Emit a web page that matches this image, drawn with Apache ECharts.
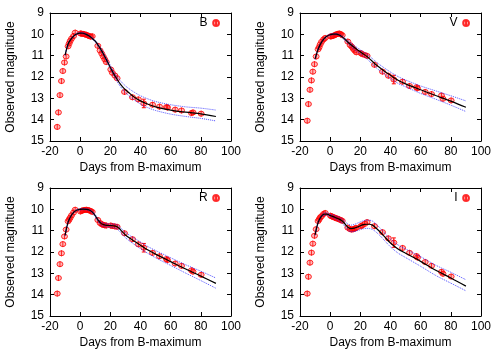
<!DOCTYPE html>
<html>
<head>
<meta charset="utf-8">
<script src="https://cdn.jsdelivr.net/npm/echarts@6/dist/echarts.min.js"></script>
<style>
html, body { margin: 0; padding: 0; background: #fff; }
#chart { width: 500px; height: 350px; }
</style>
</head>
<body>
<div id="chart"></div>
<script>
// observation epochs (days from B max), shared by all bands
var obsDays = [-15.2, -14.4, -13.4, -12.4, -11.5, -10.4, -9.3, -8.0, -7.3, -6.6, -5.7, -4.4, -3.3,
    0.2, 1.0, 2.0, 3.0, 4.0, 5.0, 6.0, 7.0, 8.0, 11.7, 13.2, 14.3, 15.3, 16.3, 17.3,
    20.3, 21.3, 23.0, 24.5, 29.4, 34.7, 38.6, 42.2, 48.0, 52.6, 57.2, 57.9, 63.0, 67.2, 73.8, 74.8, 80.2];

var bMags = [14.34, 13.66, 12.85, 12.19, 11.72, 11.32, 11.04, 10.56, 10.43, 10.31, 10.2, 10.08, 9.92,
    9.96, 9.97, 9.98, 10.0, 10.02, 10.05, 10.08, 10.11, 10.09, 10.54, 10.76, 10.9, 11.04, 11.17, 11.3,
    11.65, 11.8, 11.93, 12.06, 12.7, 12.95, 13.05, 13.24, 13.3, 13.39, 13.41, 13.43, 13.53, 13.57, 13.69, 13.66, 13.72];
var vMags = [14.05, 13.27, 12.6, 12.16, 11.75, 11.4, 11.04, 10.7, 10.6, 10.47, 10.35, 10.24, 10.17,
    10.1, 10.09, 10.07, 10.04, 10.0, 9.98, 9.96, 9.99, 10.04, 10.34, 10.5, 10.58, 10.68, 10.76, 10.84,
    10.88, 10.93, 10.97, 11.01, 11.43, 11.75, 11.94, 12.12, 12.22, 12.42, 12.48, 12.53, 12.7, 12.8, 12.87, 13.02, 13.1];
var rMags = [13.95, 13.22, 12.57, 12.06, 11.63, 11.27, 10.95, 10.56, 10.48, 10.39, 10.28, 10.15, 10.02,
    10.1, 10.07, 10.04, 10.03, 10.02, 10.03, 10.05, 10.08, 10.12, 10.5, 10.64, 10.7, 10.73, 10.75, 10.76,
    10.76, 10.78, 10.8, 10.82, 11.12, 11.4, 11.64, 11.8, 12.04, 12.2, 12.33, 12.38, 12.54, 12.65, 12.86, 12.92, 13.07];
var iMags = [13.95, 13.16, 12.5, 12.03, 11.61, 11.24, 10.93, 10.55, 10.47, 10.38, 10.32, 10.22, 10.17,
    10.3, 10.33, 10.36, 10.39, 10.42, 10.44, 10.47, 10.5, 10.54, 10.86, 10.93, 10.95, 10.93, 10.9, 10.87,
    10.79, 10.75, 10.68, 10.6, 10.79, 11.07, 11.36, 11.56, 11.81, 12.04, 12.19, 12.26, 12.47, 12.65, 12.93, 13.02, 13.15];

// model curves and their uncertainty limits
var modelDays = [-10, -8, -6, -4, -2, 0, 2, 4, 6, 8, 10, 12, 14, 16, 18, 20, 22, 24, 26, 28, 30, 33, 36, 40, 45, 50, 60, 70, 80, 90];

var bModel = [10.98, 10.45, 10.22, 10.06, 9.97, 9.94, 9.95, 10.0, 10.08, 10.19, 10.32, 10.52, 10.74, 11.0, 11.27,
    11.55, 11.82, 12.05, 12.27, 12.45, 12.6, 12.78, 12.95, 13.12, 13.28, 13.4, 13.55, 13.65, 13.73, 13.85];
var bUpper = [10.96, 10.42, 10.19, 10.03, 9.94, 9.91, 9.92, 9.97, 10.05, 10.15, 10.28, 10.47, 10.68, 10.93, 11.19,
    11.46, 11.72, 11.93, 12.12, 12.28, 12.42, 12.58, 12.72, 12.88, 13.03, 13.15, 13.3, 13.4, 13.46, 13.55];
var bLower = [11.0, 10.48, 10.25, 10.09, 10.0, 9.97, 9.98, 10.03, 10.11, 10.23, 10.37, 10.57, 10.8, 11.06, 11.34,
    11.62, 11.9, 12.15, 12.38, 12.57, 12.73, 12.92, 13.08, 13.27, 13.44, 13.57, 13.74, 13.85, 13.94, 14.06];

var vModel = [11.15, 10.7, 10.4, 10.2, 10.08, 10.02, 9.99, 9.99, 10.03, 10.12, 10.25, 10.38, 10.5, 10.62, 10.72,
    10.82, 10.92, 11.02, 11.14, 11.27, 11.4, 11.57, 11.73, 11.92, 12.15, 12.32, 12.6, 12.87, 13.13, 13.42];
var vUpper = [11.12, 10.67, 10.37, 10.17, 10.05, 9.99, 9.96, 9.96, 10.0, 10.07, 10.19, 10.31, 10.42, 10.53, 10.63,
    10.72, 10.82, 10.91, 11.02, 11.14, 11.26, 11.43, 11.58, 11.77, 11.98, 12.14, 12.42, 12.65, 12.88, 13.12];
var vLower = [11.18, 10.73, 10.43, 10.23, 10.11, 10.05, 10.02, 10.02, 10.06, 10.17, 10.31, 10.45, 10.58, 10.71, 10.81,
    10.92, 11.02, 11.13, 11.26, 11.4, 11.53, 11.71, 11.87, 12.07, 12.3, 12.46, 12.77, 13.04, 13.32, 13.62];

var rModel = [11.22, 10.6, 10.3, 10.12, 10.03, 10.0, 9.99, 10.0, 10.03, 10.12, 10.3, 10.52, 10.67, 10.73, 10.75,
    10.76, 10.77, 10.8, 10.9, 11.06, 11.2, 11.36, 11.5, 11.68, 11.91, 12.1, 12.45, 12.8, 13.13, 13.47];
var rUpper = [11.19, 10.57, 10.27, 10.09, 10.0, 9.97, 9.96, 9.97, 10.0, 10.08, 10.25, 10.46, 10.6, 10.66, 10.68,
    10.69, 10.69, 10.71, 10.8, 10.95, 11.08, 11.23, 11.36, 11.53, 11.75, 11.93, 12.27, 12.6, 12.9, 13.22];
var rLower = [11.25, 10.63, 10.33, 10.15, 10.06, 10.03, 10.02, 10.03, 10.07, 10.17, 10.36, 10.59, 10.75, 10.81, 10.83,
    10.84, 10.86, 10.9, 11.01, 11.18, 11.33, 11.5, 11.65, 11.84, 12.07, 12.27, 12.63, 12.99, 13.34, 13.7];

var iModel = [11.2, 10.62, 10.34, 10.22, 10.22, 10.29, 10.34, 10.4, 10.46, 10.55, 10.7, 10.85, 10.9, 10.88, 10.83,
    10.77, 10.72, 10.7, 10.7, 10.74, 10.85, 11.05, 11.28, 11.58, 11.86, 12.06, 12.44, 12.86, 13.22, 13.6];
var iUpper = [11.17, 10.58, 10.3, 10.17, 10.17, 10.23, 10.27, 10.32, 10.37, 10.45, 10.58, 10.7, 10.74, 10.71, 10.65,
    10.59, 10.54, 10.51, 10.51, 10.55, 10.66, 10.87, 11.1, 11.4, 11.67, 11.86, 12.22, 12.62, 12.95, 13.3];
var iLower = [11.23, 10.66, 10.38, 10.27, 10.27, 10.35, 10.41, 10.48, 10.55, 10.65, 10.82, 10.99, 11.05, 11.04, 11.0,
    10.95, 10.91, 10.89, 10.9, 10.94, 11.04, 11.23, 11.46, 11.76, 12.05, 12.26, 12.67, 13.1, 13.46, 13.82];

// the one large error bar drawn in every panel
var errDay = 42.2;
var errHalf = [0.2, 0.2, 0.2, 0.22];

var bandNames = ['B', 'V', 'R', 'I'];
var xTicks = [-20, 100, 20];
var yTicks = [9, 15, 1];

showChart();

function pairs(xs, ys) {
    var out = [];
    for (var i = 0; i < xs.length; i++) {
        out.push([xs[i], ys[i]]);
    }
    return out;
}

function showChart() {
    var chart = echarts.init(document.getElementById('chart'));
    var font = 'Liberation Sans';
    var mags = [bMags, vMags, rMags, iMags];
    var models = [bModel, vModel, rModel, iModel];
    var uppers = [bUpper, vUpper, rUpper, iUpper];
    var lowers = [bLower, vLower, rLower, iLower];
    var lefts = [50, 300, 50, 300];
    var tops = [13, 13, 188, 188];
    var pointSymbol = 'path://M10,0 A10,10 0 1,1 10,20 A10,10 0 1,1 10,0 Z M10,-2 L10,22';

    var grids = [], xAxes = [], yAxes = [], legends = [], series = [];

    for (var k = 0; k < 4; k++) {
        grids.push({ left: lefts[k], top: tops[k], width: 181, height: 128 });

        var tick = { show: true, inside: true, length: 4, lineStyle: { color: '#000' } };
        var line = { show: true, onZero: false, lineStyle: { color: '#000', width: 1 } };
        var lbl = { color: '#000', fontSize: 12, fontFamily: font };

        xAxes.push({
            gridIndex: k, type: 'value', position: 'bottom',
            min: xTicks[0], max: xTicks[1], interval: xTicks[2],
            name: 'Days from B-maximum', nameLocation: 'middle', nameGap: 21,
            nameTextStyle: lbl,
            axisLine: line, axisTick: tick, splitLine: { show: false },
            axisLabel: { color: '#000', fontSize: 12, fontFamily: font, margin: 5 }
        });
        xAxes.push({
            gridIndex: k, type: 'value', position: 'top',
            min: xTicks[0], max: xTicks[1], interval: xTicks[2],
            axisLine: line, axisTick: tick, splitLine: { show: false },
            axisLabel: { show: false }
        });
        yAxes.push({
            gridIndex: k, type: 'value', position: 'left', inverse: true,
            min: yTicks[0], max: yTicks[1], interval: yTicks[2],
            name: 'Observed magnitude', nameLocation: 'middle', nameGap: 33,
            nameTextStyle: lbl,
            axisLine: line, axisTick: tick, splitLine: { show: false },
            axisLabel: { color: '#000', fontSize: 12, fontFamily: font, margin: 6 }
        });
        yAxes.push({
            gridIndex: k, type: 'value', position: 'right', inverse: true,
            min: yTicks[0], max: yTicks[1], interval: yTicks[2],
            axisLine: line, axisTick: tick, splitLine: { show: false },
            axisLabel: { show: false }
        });

        legends.push({
            data: [bandNames[k]],
            right: (k % 2 === 0) ? 280 : 30,
            top: tops[k] + 4,
            align: 'right', padding: 0, itemGap: 0,
            itemWidth: 7, itemHeight: 7,
            textStyle: { color: '#000', fontSize: 12, fontFamily: font, padding: [0, 0, 0, 0] }
        });

        series.push({
            name: bandNames[k], type: 'scatter',
            xAxisIndex: 2 * k, yAxisIndex: 2 * k,
            symbol: pointSymbol, symbolSize: 6,
            itemStyle: { color: 'rgba(255,0,0,0.35)', borderColor: '#ff0000', borderWidth: 1 },
            data: pairs(obsDays, mags[k]),
            z: 2
        });
        series.push({
            type: 'custom', xAxisIndex: 2 * k, yAxisIndex: 2 * k,
            data: [[errDay, mags[k][obsDays.indexOf(errDay)], errHalf[k]]],
            renderItem: function(params, api) {
                var x = api.value(0), y = api.value(1), h = api.value(2);
                var p1 = api.coord([x, y - h]);
                var p2 = api.coord([x, y + h]);
                var st = { stroke: '#ff0000', lineWidth: 1 };
                return {
                    type: 'group', children: [
                        { type: 'line', shape: { x1: p1[0], y1: p1[1], x2: p2[0], y2: p2[1] }, style: st },
                        { type: 'line', shape: { x1: p1[0] - 2, y1: p1[1], x2: p1[0] + 2, y2: p1[1] }, style: st },
                        { type: 'line', shape: { x1: p2[0] - 2, y1: p2[1], x2: p2[0] + 2, y2: p2[1] }, style: st }
                    ]
                };
            },
            z: 2
        });
        series.push({
            type: 'line', xAxisIndex: 2 * k, yAxisIndex: 2 * k,
            data: pairs(modelDays, uppers[k]), smooth: 0.3, showSymbol: false,
            lineStyle: { color: 'rgba(40,40,255,0.8)', width: 1, type: 'dotted' }, z: 3
        });
        series.push({
            type: 'line', xAxisIndex: 2 * k, yAxisIndex: 2 * k,
            data: pairs(modelDays, lowers[k]), smooth: 0.3, showSymbol: false,
            lineStyle: { color: 'rgba(40,40,255,0.8)', width: 1, type: 'dotted' }, z: 3
        });
        series.push({
            type: 'line', xAxisIndex: 2 * k, yAxisIndex: 2 * k,
            data: pairs(modelDays, models[k]), smooth: 0.3, showSymbol: false,
            lineStyle: { color: '#000', width: 1.2 }, z: 4
        });
    }

    var option = {
        animation: false,
        backgroundColor: '#fff',
        grid: grids,
        xAxis: xAxes,
        yAxis: yAxes,
        legend: legends,
        series: series
    };
    chart.setOption(option);
}
</script>
</body>
</html>
